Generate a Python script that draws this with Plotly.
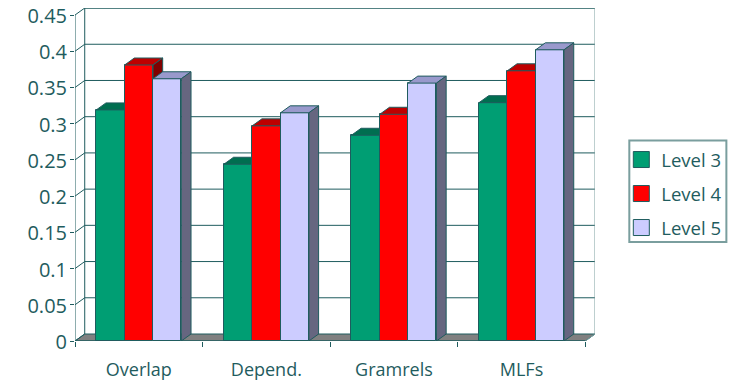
import plotly.graph_objects as go

categories = ["Overlap", "Depend.", "Gramrels", "MLFs"]
level_3 = [0.319, 0.244, 0.284, 0.329]
level_4 = [0.381, 0.297, 0.313, 0.373]
level_5 = [0.362, 0.315, 0.356, 0.402]
y_ticks = [0, 0.05, 0.1, 0.15, 0.2, 0.25, 0.3, 0.35, 0.4, 0.45]
y_labels = ["0", "0.05", "0.1", "0.15", "0.2", "0.25", "0.3", "0.35", "0.4", "0.45"]

INK = "#1f5c5e"
SOFT = "#7a9e9e"
FONT = "Open Sans"
# Depth of the extruded look, in axis units
DX, DY = 0.0762, 0.00966
BAR_W = 2 / 9
X0, X1 = -0.5, 3.5
Y_TOP = 0.4597

series = [
    ("Level 3", level_3, "#009e73", "#006e50", "#006e50", "legend", 2),
    ("Level 4", level_4, "#ff0000", "#be0000", "#800000", "legend2", 3),
    ("Level 5", level_5, "#ccccff", "#9999cc", "#666680", "legend3", 4),
]

fig = go.Figure()


def poly(xs, ys, fill, axis="", line=INK, width=1):
    fig.add_trace(go.Scatter(
        x=xs, y=ys, mode="lines", fill="toself" if fill else None, fillcolor=fill,
        line=dict(color=line, width=width), showlegend=False, hoverinfo="skip",
        cliponaxis=False, xaxis="x" + axis, yaxis="y" + axis,
    ))


# Walls, floor, gridlines and the slanted tick connectors
poly([X0, X1, X1 + DX, X0 + DX, X0],
     [0, 0, DY, DY, 0], "#808080")
grid_x, grid_y, slant_x, slant_y = [], [], [], []
for v in y_ticks:
    if v > 0:
        grid_x += [X0 + DX, X1 + DX, None]
        grid_y += [v + DY, v + DY, None]
    slant_x += [X0, X0 + DX, None]
    slant_y += [v, v + DY, None]
poly(grid_x, grid_y, None)
poly(slant_x, slant_y, None)
poly([X0 + DX, X0 + DX, X1 + DX], [DY, Y_TOP, Y_TOP], None)
poly([X1 + DX, X1 + DX, X1], [Y_TOP, DY, 0], None, line=SOFT)
poly([X0, X0, X1], [0.45, 0, 0], None)

# One overlaid axis pair per series so each level stacks above the previous one
for k, (name, values, front, top, side, legend_id, axis_no) in enumerate(series):
    axis = str(axis_no)
    for i, v in enumerate(values):
        left = i - 1 / 3 + k * BAR_W
        right = left + BAR_W
        poly([left, right, right + DX, left + DX, left],
             [v, v, v + DY, v + DY, v], top, axis)
        poly([right, right + DX, right + DX, right, right],
             [0, DY, v + DY, v, 0], side, axis)
    fig.add_trace(go.Bar(
        x=[i - 1 / 3 + (k + 0.5) * BAR_W for i in range(len(values))],
        y=values, width=BAR_W, name=name,
        marker=dict(color=front, line=dict(color=INK, width=1)),
        showlegend=False, xaxis="x" + axis, yaxis="y" + axis,
    ))
    # Legend key for the level
    fig.add_trace(go.Scatter(
        x=[None], y=[None], mode="markers", name=name, legend=legend_id,
        marker=dict(symbol="square", size=16, color=front, line=dict(color=INK, width=1)),
        xaxis="x" + axis, yaxis="y" + axis,
    ))

x_range = [X0, X1 + DX]
y_range = [0, Y_TOP]
layout = dict(
    width=731, height=381, autosize=False,
    margin=dict(l=75, r=136.3, t=8, b=40, pad=0, autoexpand=False),
    paper_bgcolor="white", plot_bgcolor="white",
    font=dict(family=FONT, color=INK),
    xaxis=dict(
        range=x_range, tickmode="array", tickvals=list(range(4)), ticktext=categories,
        ticks="", showgrid=False, zeroline=False, showline=False, automargin=False,
        tickfont=dict(size=18, family=FONT, color=INK), ticklabelstandoff=16,
        minor=dict(tickmode="array", tickvals=[-0.5, 0.5, 1.5, 2.5, 3.5], ticks="outside",
                   ticklen=5, tickcolor=INK, tickwidth=1, showgrid=False),
    ),
    yaxis=dict(
        range=y_range, tickmode="array", tickvals=y_ticks, ticktext=y_labels,
        ticks="outside", ticklen=4, tickcolor=INK, tickwidth=1, automargin=False,
        showgrid=False, zeroline=False, showline=False,
        tickfont=dict(size=20, family=FONT, color=INK),
        ticklabelstandoff=-1, ticklabelshift=1,
    ),
    shapes=[dict(type="rect", xref="paper", yref="paper", layer="below",
                 x0=(629 - 75) / 519.7, x1=(726 - 75) / 519.7,
                 y0=(341 - 242) / 333, y1=(341 - 140.5) / 333,
                 line=dict(color=SOFT, width=2), fillcolor="white")],
    barmode="overlay",
    bargap=0,
)
for n in (2, 3, 4):
    layout[f"xaxis{n}"] = dict(range=x_range, overlaying="x", visible=False)
    layout[f"yaxis{n}"] = dict(range=y_range, overlaying="y", visible=False)
# Each legend holds one entry so the rows can sit at their own heights
for legend_id, row_y in (("legend", 160), ("legend2", 194), ("legend3", 228)):
    layout[legend_id] = dict(
        x=(627 - 75) / 519.7, xanchor="left", y=(341 - row_y) / 333, yanchor="middle",
        bgcolor="rgba(0,0,0,0)", borderwidth=0, indentation=-6,
        font=dict(size=18.5, family=FONT, color=INK),
    )
fig.update_layout(**layout)
fig.write_html("out.html")
